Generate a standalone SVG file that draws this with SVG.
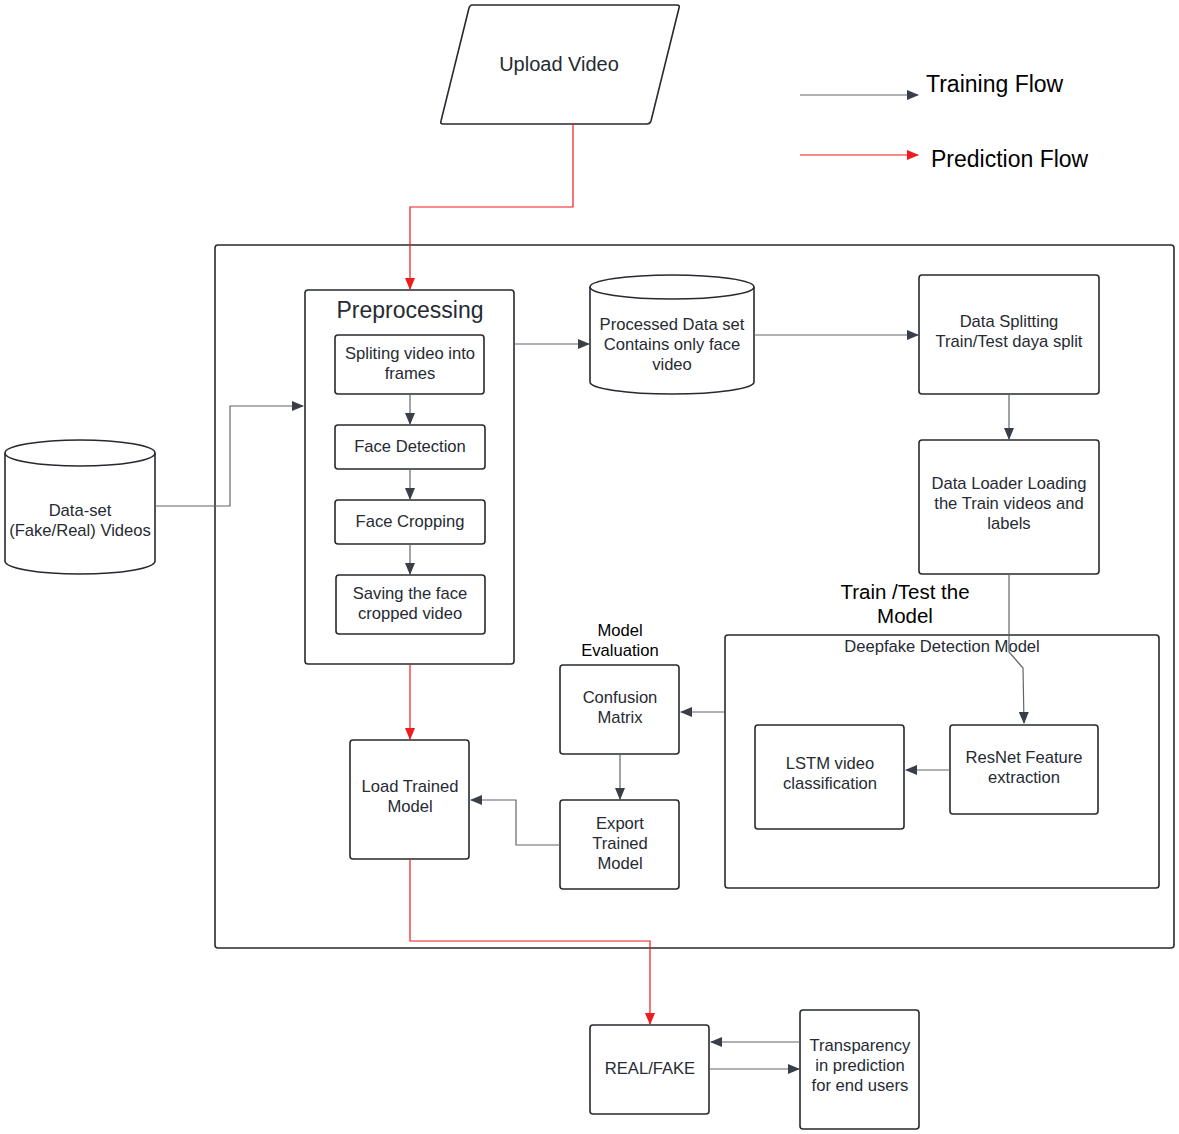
<svg xmlns="http://www.w3.org/2000/svg" width="1179" height="1134" viewBox="0 0 1179 1134">
<defs>
<marker id="ag" markerWidth="12" markerHeight="10" refX="11" refY="5" orient="auto" markerUnits="userSpaceOnUse"><path d="M0,0 L12,5 L0,10 Z" fill="#3a3f47"/></marker>
<marker id="ar" markerWidth="12" markerHeight="10" refX="11" refY="5" orient="auto" markerUnits="userSpaceOnUse"><path d="M0,0 L12,5 L0,10 Z" fill="#ee1c1c"/></marker>
<style>
.b{fill:#fff;stroke:#262a30;stroke-width:1.6}
.c{fill:none;stroke:#60656c;stroke-width:1.2;marker-end:url(#ag)}
.r{fill:none;stroke:#ee1c1c;stroke-width:1.2;marker-end:url(#ar)}
text{font-family:"Liberation Sans",Arial,sans-serif;font-size:16.6px;fill:#262a33;text-anchor:middle;dominant-baseline:central}
.k{fill:#000}
</style>
</defs>
<rect width="1179" height="1134" fill="#fff"/>
<g id="system"><rect class="b" x="215" y="245" width="959" height="703" rx="3"/></g>
<g id="legend">
<line class="c" x1="800" y1="95" x2="918" y2="95"/>
<text class="k" x="926" y="84" style="text-anchor:start;font-size:23px">Training Flow</text>
<line class="r" x1="800" y1="155" x2="918" y2="155"/>
<text class="k" x="931" y="159" style="text-anchor:start;font-size:23px">Prediction Flow</text>
</g>
<g id="upload">
<path class="b" d="M472,5 L677,5 Q680,5 679,8 L651,121 Q650,124 647,124 L443,124 Q440,124 441,121 L469,8 Q470,5 472,5 Z"/>
<text x="559" y="64" style="font-size:20px">Upload Video</text>
</g>
<g id="dataset">
<path class="b" d="M5,453 A75,13 0 0 1 155,453 L155,561 A75,13 0 0 1 5,561 Z"/>
<path class="b" style="fill:none" d="M5,453 A75,13 0 0 0 155,453"/>
<text x="80" y="510">Data-set</text>
<text x="80" y="530">(Fake/Real) Videos</text>
</g>
<g id="preprocessing">
<rect class="b" x="305" y="290" width="209" height="374" rx="3"/>
<text x="410" y="310" style="font-size:23px">Preprocessing</text>
</g>
<g id="split-frames"><rect class="b" x="335" y="335" width="149" height="59" rx="3"/><text x="410" y="353">Spliting video into</text><text x="410" y="373">frames</text></g>
<g id="face-detection"><rect class="b" x="335" y="425" width="150" height="44" rx="3"/><text x="410" y="446">Face Detection</text></g>
<g id="face-cropping"><rect class="b" x="335" y="500" width="150" height="44" rx="3"/><text x="410" y="521">Face Cropping</text></g>
<g id="saving"><rect class="b" x="336" y="575" width="149" height="59" rx="3"/><text x="410" y="593">Saving the face</text><text x="410" y="613">cropped video</text></g>
<g id="processed">
<path class="b" d="M590,287 A82,12 0 0 1 754,287 L754,382 A82,12 0 0 1 590,382 Z"/>
<path class="b" style="fill:none" d="M590,287 A82,12 0 0 0 754,287"/>
<text x="672" y="324">Processed Data set</text>
<text x="672" y="344">Contains only face</text>
<text x="672" y="364">video</text>
</g>
<g id="data-splitting"><rect class="b" x="919" y="275" width="180" height="119" rx="3"/><text x="1009" y="321">Data Splitting</text><text x="1009" y="341">Train/Test daya split</text></g>
<g id="data-loader"><rect class="b" x="919" y="440" width="180" height="134" rx="3"/><text x="1009" y="483">Data Loader Loading</text><text x="1009" y="503">the Train videos and</text><text x="1009" y="523">labels</text></g>
<g id="train-label"><text class="k" x="905" y="591" style="font-size:20.5px">Train /Test the</text><text class="k" x="905" y="615" style="font-size:20.5px">Model</text></g>
<g id="deepfake-model"><rect class="b" x="725" y="635" width="434" height="253" rx="3" style="fill:none"/><text x="942" y="646">Deepfake Detection Model</text></g>
<g id="lstm"><rect class="b" x="755" y="725" width="149" height="104" rx="3"/><text x="830" y="763">LSTM video</text><text x="830" y="783">classification</text></g>
<g id="resnet"><rect class="b" x="950" y="725" width="148" height="89" rx="3"/><text x="1024" y="757">ResNet Feature</text><text x="1024" y="777">extraction</text></g>
<g id="eval-label"><text class="k" x="620" y="630">Model</text><text class="k" x="620" y="650">Evaluation</text></g>
<g id="confusion"><rect class="b" x="560" y="665" width="119" height="89" rx="3"/><text x="620" y="697">Confusion</text><text x="620" y="717">Matrix</text></g>
<g id="export"><rect class="b" x="560" y="800" width="119" height="89" rx="3"/><text x="620" y="823">Export</text><text x="620" y="843">Trained</text><text x="620" y="863">Model</text></g>
<g id="load"><rect class="b" x="350" y="740" width="119" height="119" rx="3"/><text x="410" y="786">Load Trained</text><text x="410" y="806">Model</text></g>
<g id="realfake"><rect class="b" x="590" y="1025" width="119" height="89" rx="3"/><text x="650" y="1068">REAL/FAKE</text></g>
<g id="transparency"><rect class="b" x="800" y="1010" width="119" height="119" rx="3"/><text x="860" y="1045">Transparency</text><text x="860" y="1065">in prediction</text><text x="860" y="1085">for end users</text></g>
<g id="connectors">
<polyline class="r" points="573,124 573,207 410,207 410,289"/>
<polyline class="c" points="155,506 230,506 230,406 303,406"/>
<line class="c" x1="410" y1="394" x2="410" y2="424"/>
<line class="c" x1="410" y1="469" x2="410" y2="499"/>
<line class="c" x1="410" y1="544" x2="410" y2="574"/>
<line class="c" x1="514" y1="344" x2="589" y2="344"/>
<line class="c" x1="754" y1="335" x2="918" y2="335"/>
<line class="c" x1="1009" y1="394" x2="1009" y2="439"/>
<polyline class="c" points="1009,574 1009,652 1023,668 1024,723"/>
<line class="c" x1="950" y1="770" x2="906" y2="770"/>
<line class="c" x1="725" y1="712" x2="681" y2="712"/>
<line class="c" x1="620" y1="754" x2="620" y2="799"/>
<polyline class="c" points="560,845 516,845 516,800 471,800"/>
<line class="r" x1="410" y1="664" x2="410" y2="739"/>
<polyline class="r" points="410,859 410,941 650,941 650,1024"/>
<line class="c" x1="800" y1="1042" x2="711" y2="1042"/>
<line class="c" x1="710" y1="1069" x2="799" y2="1069"/>
</g>
</svg>
